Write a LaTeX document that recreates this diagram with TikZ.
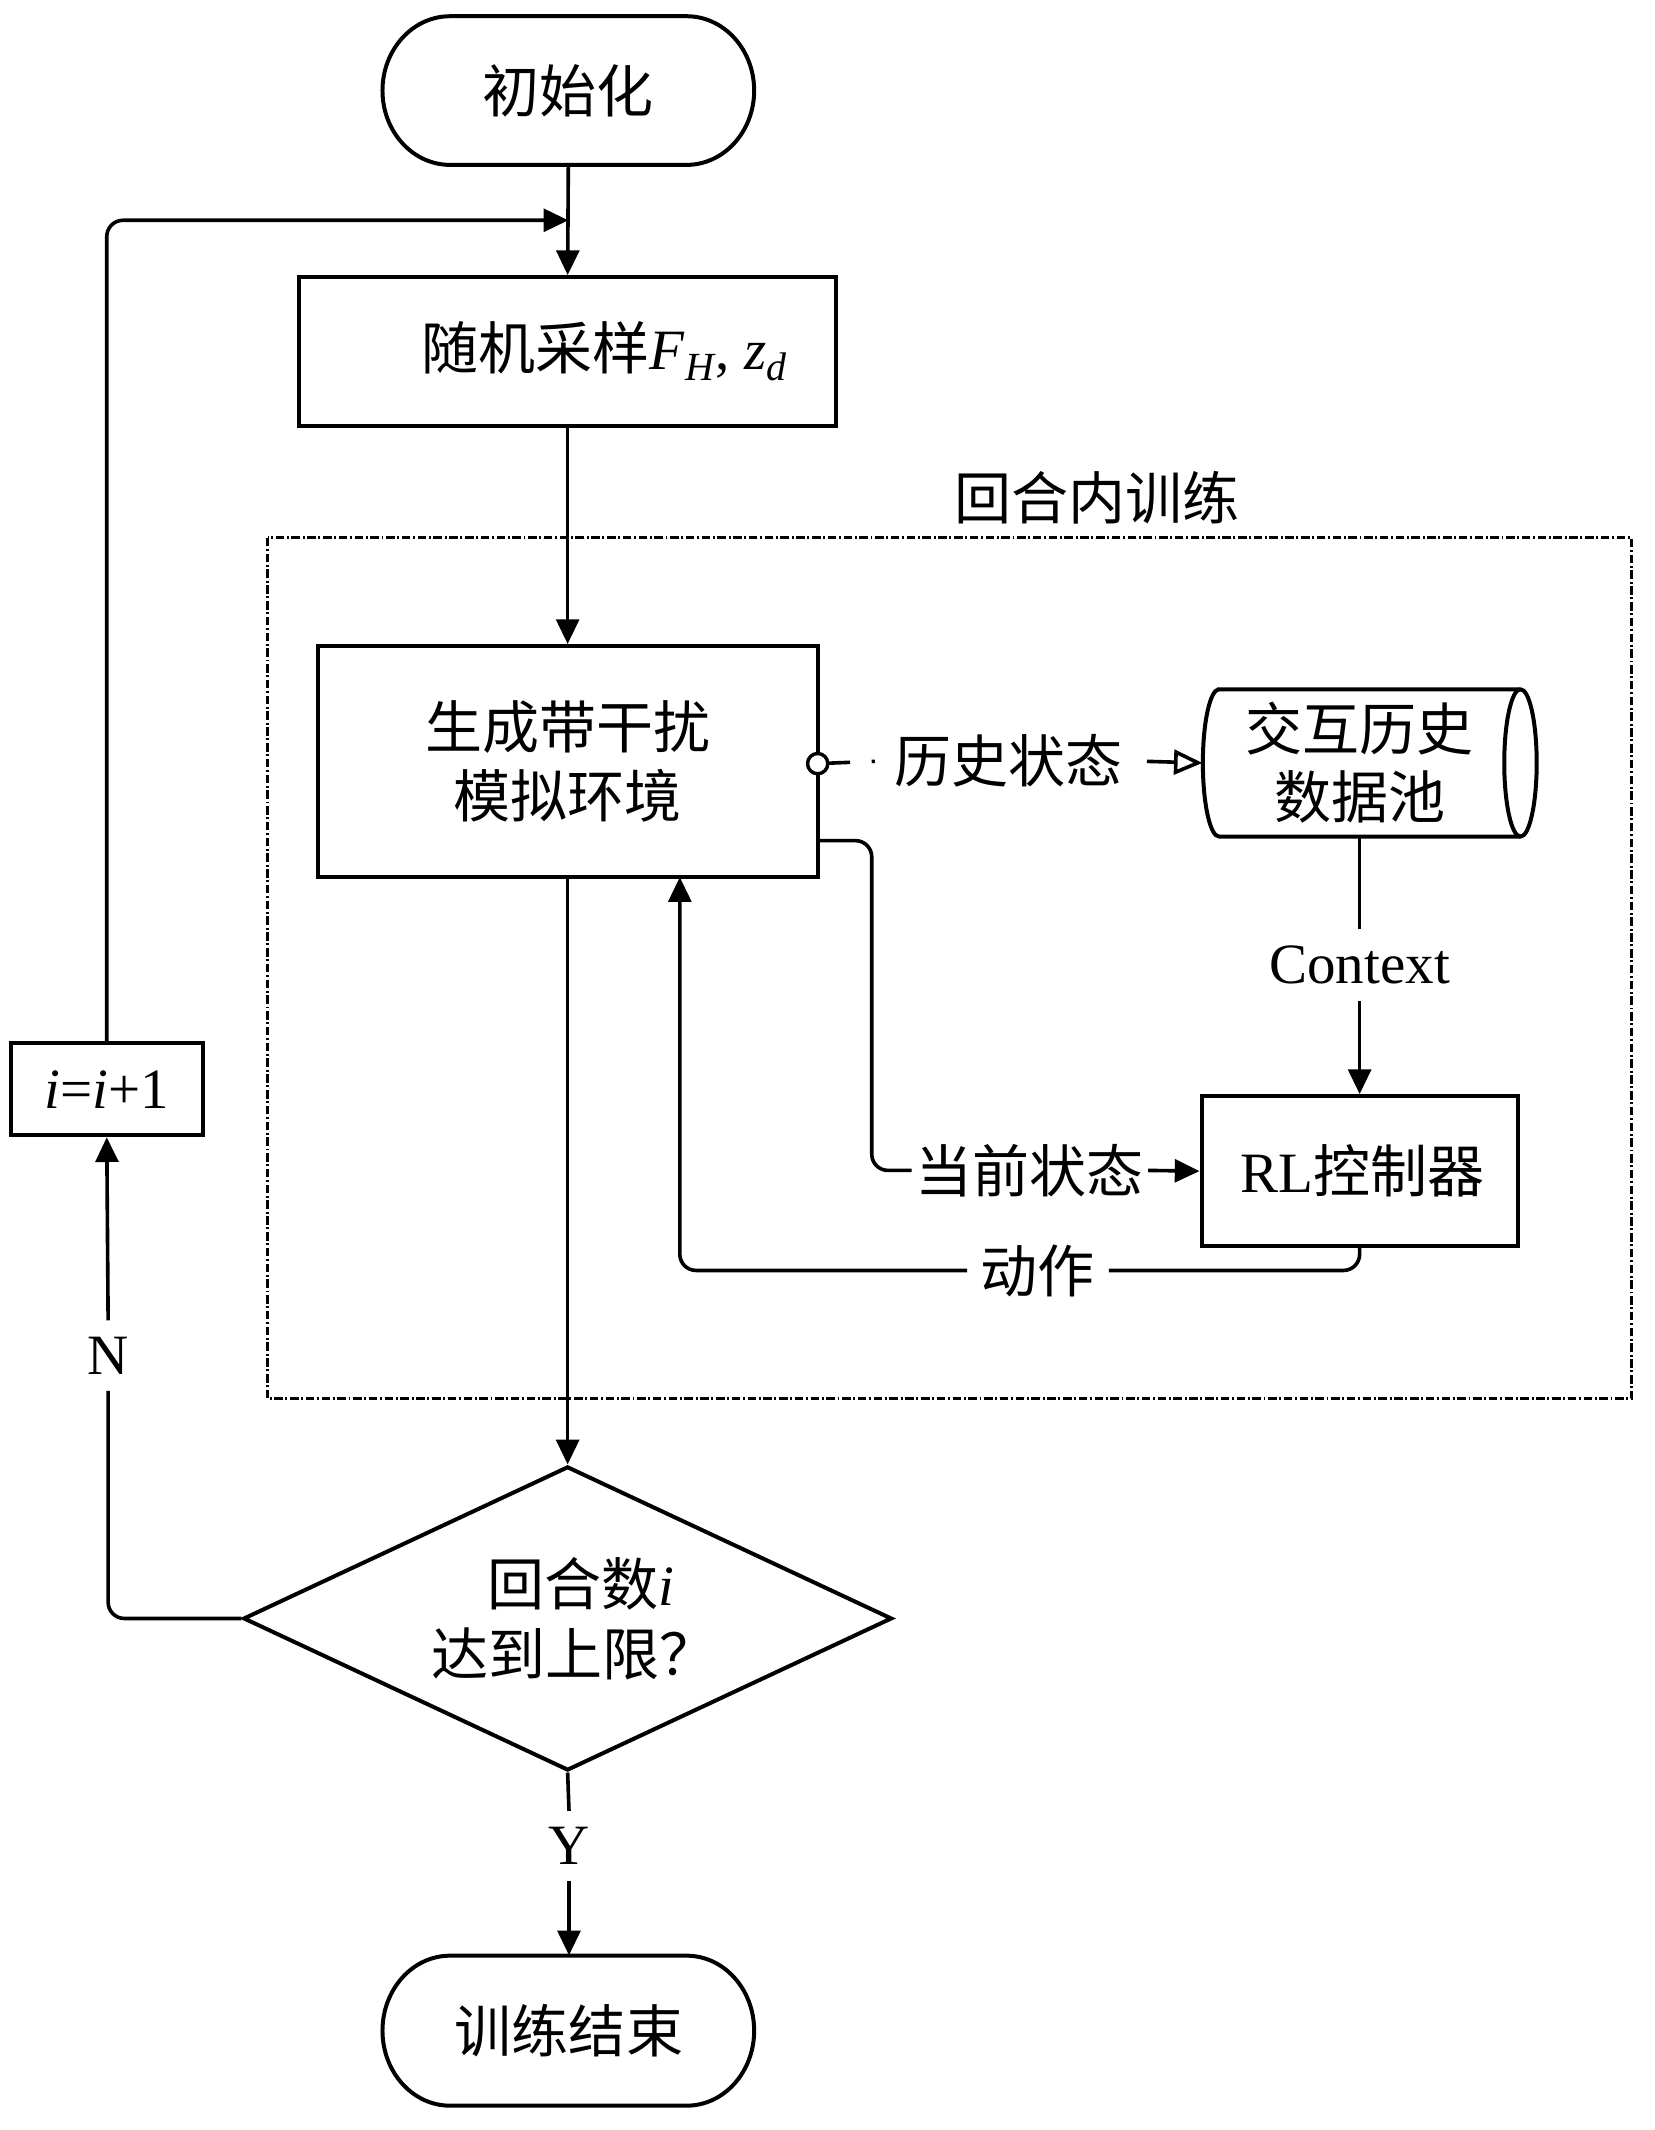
\documentclass[tikz,border=0pt]{standalone}
\usepackage{fontspec}
\setmainfont{Liberation Serif}
\newfontfamily\cjk{Noto Sans CJK SC}
\usetikzlibrary{shapes.geometric,arrows.meta,calc}
\newcommand\subit[1]{\raisebox{-6pt}{\fontsize{21}{21}\selectfont\textit{#1}}}
\begin{document}
\begin{tikzpicture}[x=0.025cm,y=-0.025cm,
  font=\fontsize{30}{36}\selectfont,
  box/.style={draw, line width=2.1pt, rectangle, inner sep=0pt, align=center},
  ghost/.style={rectangle, inner sep=0pt, align=center},
  conn/.style={line width=1.9pt},
  arr/.style={conn, -{Triangle[length=13pt,width=12pt]}},
  lbl/.style={inner sep=2pt, align=center},
  outline/.style={line width=2.1pt},
]
\path[fill=white,use as bounding box] (0,0) rectangle (1224,1576);

% frame
\draw[line width=1.6pt, dash pattern=on 4.5pt off 1.4pt on 1pt off 1.4pt] (198,398) rectangle (1207,1035);
\node[lbl] (frlab) at (812,368) {\cjk 回合内训练};

% start terminal
\node[ghost, minimum width={275*0.025cm}, minimum height={110*0.025cm}] (start) at (420.5,67) {\cjk 初始化};
\draw[outline] (333,12) -- (508,12) arc[start angle=-90,end angle=90,x radius=50,y radius=55]
  -- (333,122) arc[start angle=90,end angle=270,x radius=50,y radius=55] -- cycle;

% sample box
\node[box, minimum width={397*0.025cm}, minimum height={110*0.025cm}] (samp) at (420,260)
  {\hspace*{1.35cm}{\cjk 随机采样}\textit{F}\subit{H}, \textit{z}\subit{d}};

% environment box
\node[box, minimum width={370*0.025cm}, minimum height={171*0.025cm}] (env) at (420,563.5)
  {\cjk 生成带干扰\\\cjk 模拟环境};

% cylinder
\node[ghost, minimum width={232*0.025cm}, minimum height={109*0.025cm}] (cyl) at (1006,564.5)
  {\cjk 交互历史\\\cjk 数据池};
\draw[outline] (902,510) -- (1125,510) arc[start angle=-90,end angle=90,x radius=12,y radius=54.5]
  -- (902,619) arc[start angle=90,end angle=270,x radius=12,y radius=54.5] -- cycle;
\draw[outline] (1125,510) arc[start angle=270,end angle=90,x radius=12,y radius=54.5];

% RL box
\node[box, minimum width={234*0.025cm}, minimum height={111*0.025cm}] (rl) at (1006,866.5)
  {\hspace*{0.1cm}RL{\cjk 控制器}};

% diamond
\node[diamond, draw, line width=2.1pt, aspect=2.13, inner sep=0pt, align=center,
  minimum width={480*0.025cm}, minimum height={225*0.025cm}] (dia) at (420,1197.5)
  {\hspace*{0.5cm}{\cjk 回合数}\textit{i}\\[1pt]\hspace*{0.25cm}{\cjk 达到上限？}};

% i=i+1
\node[box, minimum width={142*0.025cm}, minimum height={68*0.025cm}] (inc) at (79,806)
  {\textit{i}=\textit{i}+1};

% end terminal
\node[ghost, minimum width={275*0.025cm}, minimum height={111*0.025cm}] (end) at (421,1502.5) {\cjk 训练结束};
\draw[outline] (333,1447) -- (508,1447) arc[start angle=-90,end angle=90,x radius=50,y radius=55.5]
  -- (333,1558) arc[start angle=90,end angle=270,x radius=50,y radius=55.5] -- cycle;

% labels
\node[lbl, inner xsep=0.15cm] (hist) at (746,563) {\cjk 历史状态};
\node[lbl, inner ysep=0.3cm] (ctx) at (1006,714) {Context};
\node[lbl] (cur) at (762,866) {\cjk 当前状态};
\node[lbl, inner xsep=0.25cm] (act) at (768,940) {\cjk 动作};
\node[lbl, inner ysep=0.3cm] (nlab) at (80,1003) {N};
\node[lbl, inner ysep=0.3cm] (ylab) at (421,1366) {Y};

\coordinate (join) at (420.5,163);
\coordinate (envr) at (605,622);
\coordinate (envb) at (503,649);

% connectors
\draw[arr] (start.south) -- (samp.north);
\draw[arr] (samp.south) -- (env.north);
\draw[arr, rounded corners=0.3cm] (inc.north) |- (join);
\draw[conn, dash pattern=on 0.6cm off 0.4cm on 0.06cm off 3cm] (605,565) -- (hist.west);
\draw[conn, -{Triangle[open,length=15pt,width=13pt]}, shorten <=0.3cm] (hist.east) -- (cyl.west);
\node[circle, draw, line width=1.8pt, fill=white, minimum size={15*0.025cm}, inner sep=0pt] (circ) at (605,565) {};
\draw[conn] (cyl.south) -- (ctx.north);
\draw[arr] (ctx.south) -- (rl.north);
\draw[conn, rounded corners=0.3cm] (envr) -- (645,622) |- (cur.west);
\draw[arr] (cur.east) -- (rl.west);
\draw[conn, rounded corners=0.3cm] (rl.south) |- (act.east);
\draw[arr, rounded corners=0.3cm] (act.west) -| (envb);
\draw[arr] (env.south) -- (dia.north);
\draw[conn, rounded corners=0.3cm] (dia.west) -| (nlab.south);
\draw[arr] (nlab.north) -- (inc.south);
\draw[conn] (dia.south) -- (ylab.north);
\draw[arr] (ylab.south) -- (end.north);
\end{tikzpicture}
\end{document}
